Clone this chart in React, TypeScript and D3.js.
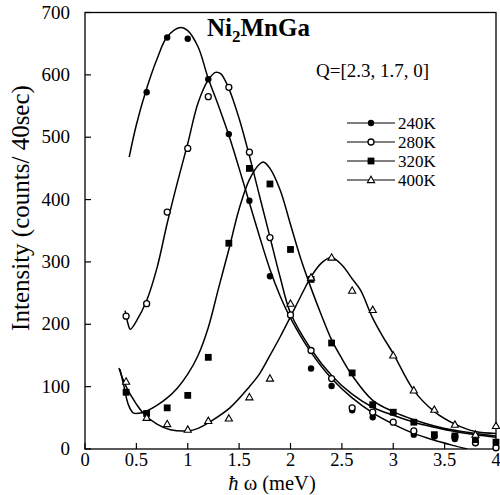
import React from 'react';
import * as d3 from 'd3';

// measured points, [energy meV, counts]
const pts240 = [[0.6, 572], [0.8, 660], [1.0, 658], [1.2, 593], [1.4, 505], [1.6, 398], [1.8, 277], [2.2, 129], [2.4, 101], [2.6, 62], [2.8, 51], [3.2, 23], [3.4, 20], [3.6, 16], [3.8, 10], [4.0, 2]];
const pts280 = [[0.4, 213], [0.6, 233], [0.8, 380], [1.0, 482], [1.2, 565], [1.4, 580], [1.6, 476], [1.8, 339], [2.0, 215], [2.2, 158], [2.4, 113], [2.6, 66], [2.8, 59], [3.0, 43], [3.2, 29], [3.6, 20], [3.8, 10], [4.0, 2]];
const pts320 = [[0.4, 91], [0.6, 57], [0.8, 66], [1.0, 86], [1.2, 147], [1.4, 330], [1.6, 450], [1.8, 425], [2.0, 320], [2.2, 272], [2.4, 170], [2.6, 122], [2.8, 71], [3.0, 59], [3.2, 43], [3.4, 23], [3.6, 21], [3.8, 15], [4.0, 11]];
const pts400 = [[0.4, 108], [0.6, 50], [0.8, 40], [1.0, 31], [1.2, 45], [1.4, 49], [1.6, 83], [1.8, 113], [2.0, 233], [2.2, 275], [2.4, 307], [2.6, 254], [2.8, 223], [3.0, 150], [3.2, 94], [3.4, 63], [3.6, 39], [3.8, 23], [4.0, 37]];

// fitted curves
const fit240 = [[0.43, 468], [0.5, 520], [0.6, 578], [0.7, 625], [0.8, 661], [0.93, 676], [1.0, 671], [1.1, 645], [1.2, 594], [1.3, 550], [1.4, 503], [1.5, 450], [1.6, 395], [1.7, 340], [1.8, 288], [1.9, 245], [2.0, 210], [2.2, 155], [2.4, 113], [2.6, 82], [2.8, 58], [3.0, 40], [3.2, 25], [3.4, 14], [3.6, 5], [3.72, 0]];
const fit280 = [[0.39, 222], [0.42, 200], [0.44, 192], [0.5, 205], [0.6, 238], [0.7, 290], [0.8, 362], [0.9, 428], [1.0, 490], [1.1, 555], [1.2, 592], [1.27, 604], [1.32, 602], [1.4, 578], [1.5, 530], [1.6, 470], [1.7, 405], [1.8, 340], [1.9, 275], [2.0, 218], [2.2, 160], [2.4, 118], [2.6, 88], [2.8, 67], [3.0, 54], [3.2, 43], [3.4, 35], [3.6, 28], [3.8, 23], [4.0, 19]];
const fit320 = [[0.34, 128], [0.38, 100], [0.42, 72], [0.47, 58], [0.55, 58], [0.6, 61], [0.7, 70], [0.8, 82], [0.9, 98], [1.0, 120], [1.1, 150], [1.2, 195], [1.3, 258], [1.4, 320], [1.5, 385], [1.6, 432], [1.7, 457], [1.74, 460], [1.8, 450], [1.9, 415], [2.0, 360], [2.1, 305], [2.2, 258], [2.3, 215], [2.4, 175], [2.5, 145], [2.6, 118], [2.8, 78], [3.0, 60], [3.2, 47], [3.4, 37], [3.6, 30], [3.8, 25], [4.0, 21]];
const fit400 = [[0.33, 130], [0.4, 100], [0.5, 72], [0.57, 57], [0.7, 40], [0.83, 31], [1.0, 29], [1.1, 33], [1.22, 44], [1.41, 66], [1.6, 100], [1.7, 121], [1.8, 150], [1.9, 180], [2.0, 212], [2.1, 245], [2.2, 276], [2.3, 298], [2.4, 307], [2.5, 295], [2.6, 273], [2.68, 255], [2.8, 210], [2.9, 180], [3.0, 153], [3.2, 94], [3.4, 60], [3.6, 40], [3.8, 28], [4.0, 25]];

const xTicks = [0, 0.5, 1, 1.5, 2, 2.5, 3, 3.5, 4];
const yTicks = [0, 100, 200, 300, 400, 500, 600, 700];
const legendLabels = ['240K', '280K', '320K', '400K'];

const W = 500;
const H = 495;
const left = 85, right = 496, top = 12.5, bottom = 449;
const font = '"Liberation Serif", "Times New Roman", serif';

function Marker({ kind, x, y }: { kind: string; x: number; y: number }) {
  if (kind === 'fc') return <circle cx={x} cy={y} r={3.2} fill="#000" />;
  if (kind === 'oc') return <circle cx={x} cy={y} r={3} fill="#fff" stroke="#000" strokeWidth={1.3} />;
  if (kind === 'sq') return <rect x={x - 3.4} y={y - 3.4} width={6.8} height={6.8} fill="#000" />;
  return <path d={`M${x},${y - 3.8}L${x + 3.6},${y + 2.6}L${x - 3.6},${y + 2.6}Z`} fill="#fff" stroke="#000" strokeWidth={1.1} />;
}

export default function App() {
  const x = d3.scaleLinear().domain([0, 4]).range([left, right]);
  const y = d3.scaleLinear().domain([0, 700]).range([bottom, top]);
  const line = d3.line<number[]>()
    .x((d) => x(d[0]))
    .y((d) => y(d[1]))
    .curve(d3.curveCatmullRom.alpha(0.5));

  const series = [
    { pts: pts240, fit: fit240, kind: 'fc' },
    { pts: pts280, fit: fit280, kind: 'oc' },
    { pts: pts320, fit: fit320, kind: 'sq' },
    { pts: pts400, fit: fit400, kind: 'tr' },
  ];

  return (
    <svg width={W} height={H} style={{ position: 'absolute', left: 0, top: 0, background: '#fff' }} fontFamily={font}>
      <defs>
        <clipPath id="plot">
          <rect x={left} y={top} width={right - left} height={bottom - top} />
        </clipPath>
      </defs>
      <rect x={left} y={top} width={right - left} height={bottom - top} fill="none" stroke="#000" strokeWidth={1.3} />
      {xTicks.map((t) => (
        <g key={t}>
          <line x1={x(t)} x2={x(t)} y1={bottom} y2={bottom - 6} stroke="#000" strokeWidth={1.2} />
          <text x={x(t)} y={466} textAnchor="middle" fontSize={18.5}>{t}</text>
        </g>
      ))}
      {yTicks.map((t) => (
        <g key={t}>
          <line x1={left} x2={left + 6} y1={y(t)} y2={y(t)} stroke="#000" strokeWidth={1.2} />
          <text x={70} y={y(t) + 6} textAnchor="end" fontSize={19}>{t}</text>
        </g>
      ))}
      <g clipPath="url(#plot)">
        {series.map((s, i) => (
          <path key={i} d={line(s.fit) || ''} fill="none" stroke="#000" strokeWidth={1.5} />
        ))}
      </g>
      {series.map((s, i) => (
        <g key={i}>
          {s.pts.map((p, j) => <Marker key={j} kind={s.kind} x={x(p[0])} y={y(p[1])} />)}
        </g>
      ))}
      <text x={207} y={36} fontSize={25} fontWeight="bold">
        Ni<tspan fontSize={17} dy={6}>2</tspan><tspan dy={-6}>MnGa</tspan>
      </text>
      <text x={316} y={77} fontSize={19}>Q=[2.3, 1.7, 0]</text>
      {legendLabels.map((lab, i) => {
        const ly = 123 + i * 19;
        return (
          <g key={lab}>
            <line x1={347} x2={395} y1={ly} y2={ly} stroke="#000" strokeWidth={1} />
            <Marker kind={series[i].kind} x={371} y={ly} />
            <text x={398} y={ly + 6} fontSize={17}>{lab}</text>
          </g>
        );
      })}
      <text x={272} y={490} textAnchor="middle" fontSize={20.5}>
        <tspan fontStyle="italic">ħ</tspan> ω (meV)
      </text>
      <text transform="translate(29,208) rotate(-90)" textAnchor="middle" fontSize={25}>
        Intensity (counts/ 40sec)
      </text>
    </svg>
  );
}
